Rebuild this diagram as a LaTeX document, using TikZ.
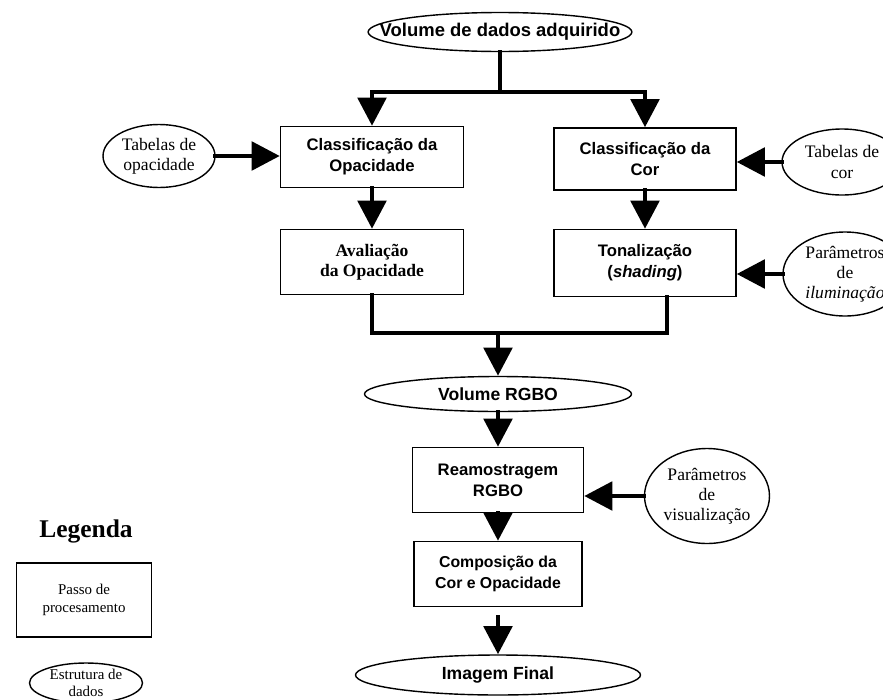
\documentclass[tikz,border=0pt]{standalone}
\usepackage{fontspec}
\setmainfont{Liberation Serif}
\newfontfamily\arialfont{Liberation Sans}
\usetikzlibrary{positioning, arrows.meta, shapes.geometric}

\begin{document}
\begin{tikzpicture}[
    x=0.02cm, y=-0.02cm,  % one unit = one pixel of the layout
    % Styles
    stepbox/.style={draw, line width=0.8pt, align=center, inner sep=2pt, font=\arialfont\bfseries\fontsize{9.5}{12}\selectfont},
    serifstep/.style={stepbox, font=\bfseries\fontsize{10}{11.5}\selectfont},
    databox/.style={draw, ellipse, line width=0.8pt, align=center, inner sep=0pt, font=\arialfont\bfseries\fontsize{10}{12}\selectfont},
    inputbox/.style={draw, ellipse, line width=0.8pt, align=center, inner sep=0pt, font=\fontsize{10}{11.5}\selectfont},
    line/.style={line width=2.8pt, line cap=rect},
    arrow/.style={line, -{Triangle[length=16pt,width=16pt]}},
]
\useasboundingbox (0,0) rectangle (883,700);

% Acquired volume
\node[databox, minimum width=5.24cm, minimum height=0.78cm, inner xsep=-0.54cm, font=\arialfont\bfseries\fontsize{10.5}{12}\selectfont] (volin) at (500,32) {Volume de dados adquirido};
\coordinate (split) at (500,92);

% Classification
\node[stepbox, minimum width=3.66cm, minimum height=1.22cm] (clop) at (372,157) {Classificação da\\Opacidade};
\node[stepbox, minimum width=3.64cm, minimum height=1.24cm] (clcor) at (645,159) {Classificação da\\Cor};

% Opacity evaluation and shading
\node[serifstep, minimum width=3.66cm, minimum height=1.3cm] (avop) at (372,262) {Avaliação\\da Opacidade};
\node[stepbox, minimum width=3.64cm, minimum height=1.34cm] (tonal) at (645,263) {Tonalização\\(\textit{shading})};

% Tables and lighting parameters
\node[inputbox, minimum width=2.24cm, minimum height=1.26cm] (tabop) at (159,156) {Tabelas de\\opacidade};
\node[inputbox, minimum width=2.4cm, minimum height=1.32cm] (tabcor) at (842,162) {Tabelas de\\cor};
\node[inputbox, minimum width=2.48cm, minimum height=1.68cm] (parilum) at (845,274) {Parâmetros\\de\\\textit{iluminação}};

% RGBO volume and resampling
\coordinate (merge) at (498,333);
\node[databox, minimum width=5.34cm, minimum height=0.7cm] (vrgbo) at (498,394) {Volume RGBO};
\node[stepbox, minimum width=3.42cm, minimum height=1.3cm] (ream) at (498,480) {Reamostragem\\RGBO};
\node[inputbox, minimum width=2.5cm, minimum height=1.9cm] (parvis) at (707,496) {Parâmetros\\de\\visualização};

% Compositing and final image
\node[stepbox, minimum width=3.36cm, minimum height=1.3cm, font=\arialfont\bfseries\fontsize{9}{11.5}\selectfont] (comp) at (498,574) {Composição da\\Cor e Opacidade};
\node[databox, minimum width=5.7cm, minimum height=0.8cm] (final) at (498,675) {Imagem Final};

% Legend
\node[anchor=base, font=\bfseries\fontsize{14.5}{16}\selectfont] (legtitle) at (86,537) {Legenda};
\node[draw, line width=0.8pt, align=center, minimum width=2.7cm, minimum height=1.48cm, font=\fontsize{8.5}{10}\selectfont] (legstep) at (84,600) {Passo de\\procesamento};
\node[inputbox, minimum width=2.26cm, minimum height=0.8cm, inner ysep=-3pt, font=\fontsize{8.5}{10}\selectfont] (legdata) at (86,683) {Estrutura de\\dados};

% Connectors
\draw[line] (volin) -- (split);
\draw[arrow] (split) -| (clop.north);
\draw[arrow] (split) -| (clcor.north);
\draw[arrow] (tabop.east) -- (clop.west |- tabop.east);
\draw[arrow] (tabcor.west) -- (clcor.east |- tabcor.west);
\draw[arrow] (clop) -- (avop);
\draw[arrow] (clcor) -- (tonal);
\draw[arrow] (parilum.west) -- (tonal.east |- parilum.west);
\draw[line] (avop.south) |- (merge) -| ([xshift=0.44cm]tonal.south);
\draw[arrow] (merge) -- (vrgbo);
\draw[arrow] (vrgbo) -- (ream);
\draw[arrow] (parvis.west) -- (ream.east |- parvis.west);
\draw[arrow] (ream) -- (comp);
\draw[arrow, shorten <=0.2cm] (comp) -- (final);

\end{tikzpicture}
\end{document}
